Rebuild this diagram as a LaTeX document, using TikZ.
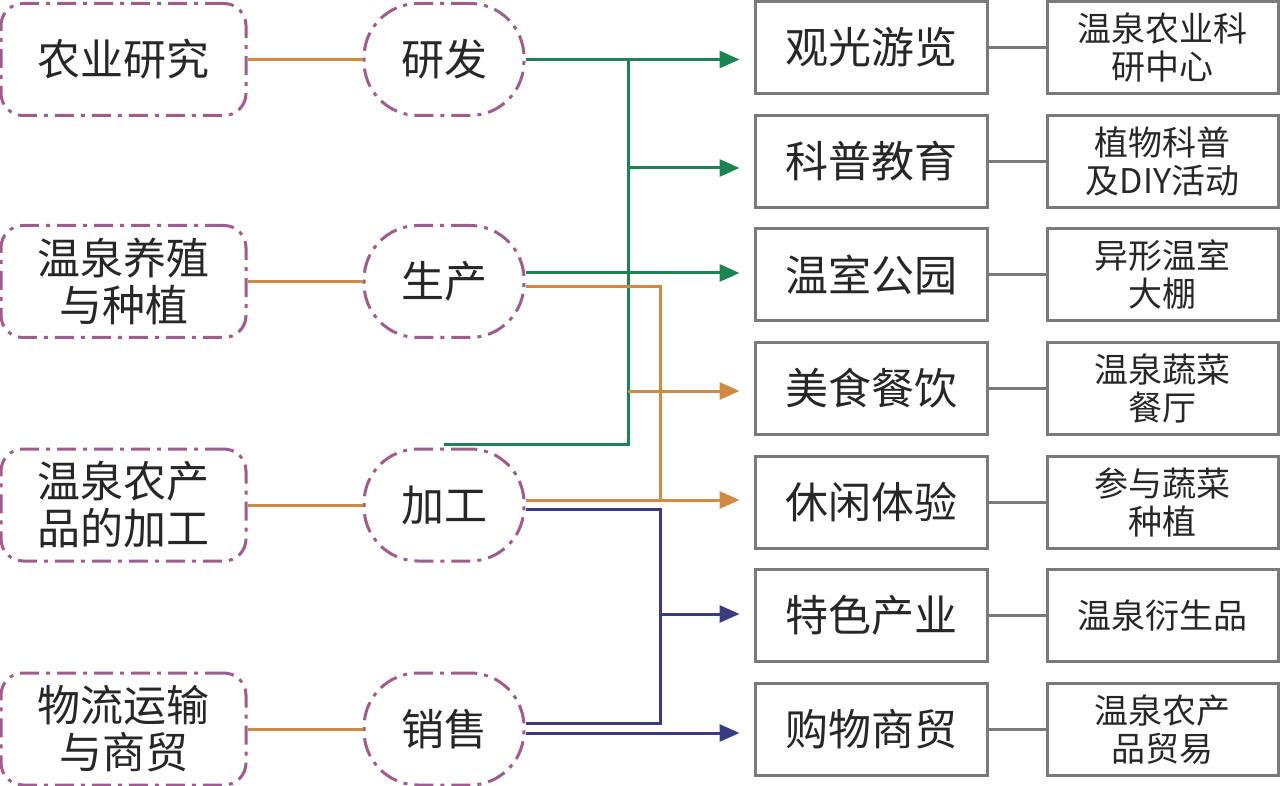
\documentclass[tikz,border=0pt]{standalone}
\usepackage{fontspec}
\setmainfont{Noto Sans CJK SC}
\usetikzlibrary{arrows.meta,calc}
\definecolor{pur}{RGB}{160,92,140}
\definecolor{org}{RGB}{208,138,66}
\definecolor{grn}{RGB}{28,132,82}
\definecolor{nav}{RGB}{58,60,130}
\definecolor{gry}{RGB}{122,122,122}
\definecolor{txt}{RGB}{40,38,38}
\newcommand{\bigtxt}{\fontsize{43}{47}\selectfont}
\newcommand{\smalltxt}{\fontsize{34}{38}\selectfont}
\begin{document}
\begin{tikzpicture}[x=1pt,y=-1pt,
  dashdot/.style={draw=pur, line width=3pt, dash pattern=on 19pt off 7pt on 4pt off 7pt},
  leftbox/.style={dashdot, rounded corners=22pt, minimum width=245pt, minimum height=112pt,
    inner sep=0pt, align=center, font=\bigtxt, text=txt},
  midbox/.style={dashdot, rounded corners=54pt, minimum width=160pt, minimum height=112pt,
    inner sep=0pt, align=center, font=\bigtxt, text=txt},
  rbox/.style={draw=gry, line width=3pt, minimum width=232pt, minimum height=92pt,
    inner sep=0pt, align=center, font=\bigtxt, text=txt},
  sbox/.style={draw=gry, line width=3pt, minimum width=231pt, minimum height=92pt,
    inner sep=0pt, align=center, font=\smalltxt, text=txt},
  link/.style={line width=3pt},
  glink/.style={draw=gry, line width=3pt},
  arr/.style={line width=3pt, -{Triangle[length=20pt,width=17pt]}, shorten >=14pt}
]
\useasboundingbox (0,0) rectangle (1280,786);

% left column
\node[leftbox] (L1) at (123.5,59.5) {农业研究};
\node[leftbox] (L2) at (123.5,281.5) {温泉养殖\\与种植};
\node[leftbox] (L3) at (123.5,505) {温泉农产\\品的加工};
\node[leftbox] (L4) at (123.5,729) {物流运输\\与商贸};

% middle column
\node[midbox] (M1) at (444,59.5) {研发};
\node[midbox] (M2) at (444,281.5) {生产};
\node[midbox] (M3) at (444,505) {加工};
\node[midbox] (M4) at (444,729) {销售};

% right columns
\node[rbox] (R1) at (871,47.5) {观光游览};
\node[rbox] (R2) at (871,161.2) {科普教育};
\node[rbox] (R3) at (871,274.8) {温室公园};
\node[rbox] (R4) at (871,388.4) {美食餐饮};
\node[rbox] (R5) at (871,502) {休闲体验};
\node[rbox] (R6) at (871,615.6) {特色产业};
\node[rbox] (R7) at (871,729.2) {购物商贸};

\node[sbox] (S1) at (1162.5,47.5) {温泉农业科\\研中心};
\node[sbox] (S2) at (1162.5,161.2) {植物科普\\及DIY活动};
\node[sbox] (S3) at (1162.5,274.8) {异形温室\\大棚};
\node[sbox] (S4) at (1162.5,388.4) {温泉蔬菜\\餐厅};
\node[sbox] (S5) at (1162.5,502) {参与蔬菜\\种植};
\node[sbox] (S6) at (1162.5,615.6) {温泉衍生品};
\node[sbox] (S7) at (1162.5,729.2) {温泉农产\\品贸易};

% left to middle
\foreach \i in {1,2,3,4} \draw[org,link] (L\i.east) -- (M\i.west);

% right pairs
\foreach \i in {1,...,7} \draw[glink] (R\i.east) -- (S\i.west);

% helper coordinates
\coordinate (m1o) at (M1.east);
\coordinate (m2g) at ($(M2.east)+(0,-8.5)$);
\coordinate (m2o) at ($(M2.east)+(0,5.5)$);
\coordinate (m3t) at ($(M3.north)+(0,-3)$);
\coordinate (m3o) at ($(M3.east)+(0,-5)$);
\coordinate (m3b) at ($(M3.east)+(0,4)$);
\coordinate (m4u) at ($(M4.east)+(0,-6)$);
\coordinate (m4l) at ($(M4.east)+(0,4)$);
\coordinate (gtop) at (628,59.5);
\coordinate (g2) at (628,168);
\coordinate (o4) at (628,391);
\coordinate (ojoin) at (660,500);
\coordinate (bjoin) at (660,723);
\coordinate (b6) at (660,614);

% green
\draw[grn,arr] (m1o) -- (m1o -| R1.west);
\draw[grn,link] (m3t) -| (gtop);
\draw[grn,arr] (g2) -- (g2 -| R2.west);
\draw[grn,arr] (m2g) -- (m2g -| R3.west);

% orange
\draw[org,arr] (o4) -- (o4 -| R4.west);
\draw[org,link] (m2o) -| (ojoin);
\draw[org,arr] (m3o) -- (m3o -| R5.west);

% blue
\draw[nav,link] (m3b) -| (bjoin) -- (m4u);
\draw[nav,arr] (b6) -- (b6 -| R6.west);
\draw[nav,arr] (m4l) -- (m4l -| R7.west);
\end{tikzpicture}
\end{document}
